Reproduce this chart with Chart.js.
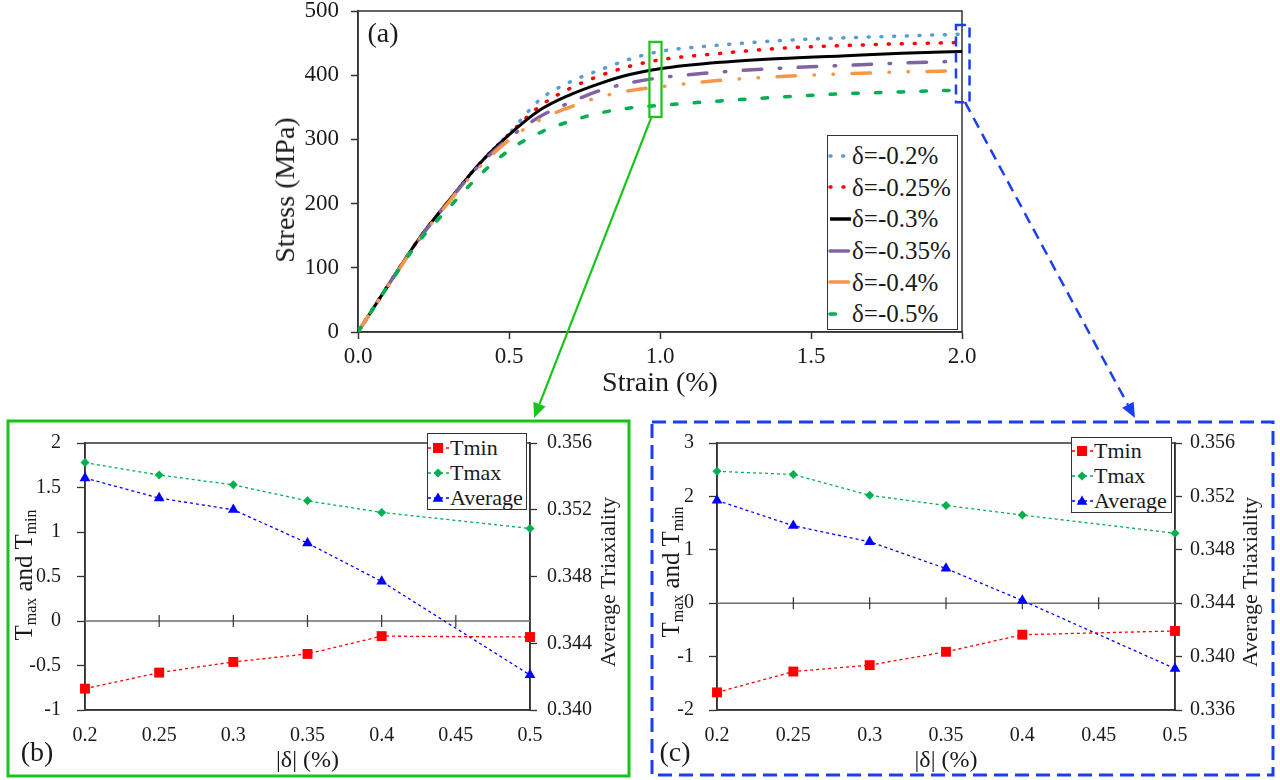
<!DOCTYPE html>
<html>
<head>
<meta charset="utf-8">
<script src="https://cdn.jsdelivr.net/npm/chart.js@4.4.0/dist/chart.umd.min.js"></script>
<style>
  body { margin: 0; width: 1280px; height: 780px; position: relative; overflow: hidden; background: #fff;
         font-family: 'Liberation Serif', 'Times New Roman', serif; color: #1a1a1a; }
  .abs { position: absolute; }
  .rot { position: absolute; white-space: nowrap; transform: translate(-50%, -50%) rotate(-90deg); }
  .tag { position: absolute; transform: translate(-50%, -50%); font-size: 28px; }
  .legend { background: #fff; border: 1px solid #333; box-sizing: border-box; }
  .row { display: flex; align-items: center; }
  sub { font-size: 16px; vertical-align: -4px; }
</style>
</head>
<body>
<canvas id="chartA" class="abs" width="720" height="400" style="left:260px;top:0px;"></canvas>
<canvas id="chartB" class="abs" width="616" height="351" style="left:10px;top:424px;"></canvas>
<canvas id="chartC" class="abs" width="614" height="350" style="left:655px;top:425px;"></canvas>
<canvas id="overlay" class="abs" width="1280" height="780" style="left:0;top:0;pointer-events:none;"></canvas>

<div class="rot" style="left:285px;top:190px;font-size:28px;">Stress (MPa)</div>
<div class="rot" style="left:25px;top:575px;font-size:25px;">T<sub>max</sub> and T<sub>min</sub></div>
<div class="rot" style="left:608px;top:582px;font-size:22px;">Average Triaxiality</div>
<div class="rot" style="left:672px;top:572px;font-size:25px;">T<sub>max</sub> and T<sub>min</sub></div>
<div class="rot" style="left:1250px;top:582px;font-size:22px;">Average Triaxiality</div>
<div class="tag" style="left:383px;top:33px;">(a)</div>
<div class="tag" style="left:37px;top:752px;">(b)</div>
<div class="tag" style="left:675px;top:752px;">(c)</div>

<div id="legA" class="abs legend" style="left:827px;top:135px;width:131px;height:195px;padding-top:4px;"></div>
<div id="legB" class="abs legend" style="left:427px;top:433px;width:100px;height:77px;padding-top:1px;"></div>
<div id="legC" class="abs legend" style="left:1071px;top:437px;width:101px;height:76px;padding-top:0px;"></div>

<script>
// (a) stress-strain curves for each offset delta
const strain = [0, 0.1, 0.2, 0.3, 0.4, 0.5, 0.6, 0.7, 0.8, 0.9, 1.0, 1.2, 1.4, 1.6, 1.8, 2.0];
const stressD020 = [0, 73, 144, 204, 261, 309, 361, 389, 408, 425, 437, 447, 454, 458, 461, 464];
const stressD025 = [0, 73, 144, 204, 261, 308, 351, 379, 399, 414, 424, 434, 442, 446, 449, 451];
const stressD030 = [0, 73, 144, 204, 261, 307, 345, 369, 387, 401, 410, 420, 426, 430, 434, 437];
const stressD035 = [0, 73, 143, 203, 259, 302, 335, 357, 376, 388, 396, 405, 411, 415, 419, 422];
const stressD040 = [0, 72, 142, 202, 256, 299, 330, 350, 366, 376, 382, 392, 398, 402, 405, 407];
const stressD050 = [0, 72, 140, 193, 243, 283, 310, 328, 341, 349, 353, 360, 366, 371, 374, 377];
const curveLabels = ['δ=-0.2%', 'δ=-0.25%', 'δ=-0.3%', 'δ=-0.35%', 'δ=-0.4%', 'δ=-0.5%'];
const strainTicks = [0, 0.5, 1.0, 1.5, 2.0];
const stressTicks = [0, 100, 200, 300, 400, 500];

// (b), (c) triaxiality vs |delta|
const deltaAbs = [0.2, 0.25, 0.3, 0.35, 0.4, 0.5];
const deltaTicks = [0.2, 0.25, 0.3, 0.35, 0.4, 0.45, 0.5];
const tminB = [-0.76, -0.58, -0.46, -0.37, -0.17, -0.18];
const tmaxB = [1.78, 1.64, 1.53, 1.35, 1.22, 1.04];
const avgB = [0.3539, 0.3527, 0.3520, 0.3500, 0.3477, 0.3421];
const tTicksB = [-1, -0.5, 0, 0.5, 1, 1.5, 2];
const avgTicksB = [0.340, 0.344, 0.348, 0.352, 0.356];
const tminC = [-1.67, -1.28, -1.16, -0.91, -0.59, -0.52];
const tmaxC = [2.47, 2.41, 2.02, 1.83, 1.65, 1.31];
const avgC = [0.3517, 0.3498, 0.3486, 0.3466, 0.3442, 0.3391];
const tTicksC = [-2, -1, 0, 1, 2, 3];
const avgTicksC = [0.336, 0.340, 0.344, 0.348, 0.352, 0.356];
const panelLabels = ['Tmin', 'Tmax', 'Average'];

const SERIF = "'Liberation Serif', 'Times New Roman', serif";
const AXIS = '#333333';
Chart.defaults.font.family = SERIF;
Chart.defaults.color = '#1a1a1a';

// line looks for the six curves
const curveColors = ['#5b9bd5', '#ff0000', '#000000', '#8064a2', '#f79646', '#00b050'];
const curveDash = [[1, 11.7], [1, 12], [], [18.5, 17.5, 1.5, 17.5], [18.5, 18.5, 0.5, 18.5, 0.5, 18.5], [5.5, 17.2]];

function xy(xs, ys) {
  return xs.map((x, i) => ({ x: x, y: ys[i] }));
}
function fixTicks(list) {
  return function (scale) { scale.ticks = list.map(v => ({ value: v })); };
}
// fixed axis thickness, no extra room for overhanging end labels
function sizeY(fit, key) {
  return function (s) { s.width = fit[key]; s.paddingTop = 0; s.paddingBottom = 0; };
}
function sizeX(fit) {
  return function (s) { s.height = fit.xh; s.paddingLeft = 0; s.paddingRight = 0; };
}

// box around the plot area
const frame = {
  id: 'frame',
  beforeDatasetsDraw(chart) {
    const a = chart.chartArea, ctx = chart.ctx;
    ctx.save();
    ctx.strokeStyle = AXIS;
    ctx.lineWidth = 1.5;
    ctx.strokeRect(a.left, a.top, a.right - a.left, a.bottom - a.top);
    ctx.restore();
  }
};

// zero line with crossing tick marks (panels b, c)
const zeroAxis = {
  id: 'zeroAxis',
  beforeDatasetsDraw(chart) {
    const a = chart.chartArea, ctx = chart.ctx;
    const y0 = chart.scales.y.getPixelForValue(0);
    ctx.save();
    ctx.strokeStyle = '#6e6e6e';
    ctx.lineWidth = 1.5;
    ctx.beginPath();
    ctx.moveTo(a.left, y0);
    ctx.lineTo(a.right, y0);
    ctx.stroke();
    ctx.strokeStyle = AXIS;
    ctx.lineWidth = 1.2;
    deltaTicks.slice(1, -1).forEach(v => {
      const x = chart.scales.x.getPixelForValue(v);
      ctx.beginPath();
      ctx.moveTo(x, y0 - 6);
      ctx.lineTo(x, y0 + 6);
      ctx.stroke();
    });
    ctx.restore();
  }
};

// ---------- (a) ----------
const stressSeries = [stressD020, stressD025, stressD030, stressD035, stressD040, stressD050];
const fitA = { xh: 68, yw: 98 };
const chartA = new Chart(document.getElementById('chartA'), {
  type: 'line',
  data: {
    datasets: stressSeries.map((s, i) => ({
      label: curveLabels[i],
      data: xy(strain, s),
      borderColor: curveColors[i],
      backgroundColor: curveColors[i],
      borderWidth: i === 2 ? 3 : 3.5,
      borderDash: curveDash[i],
      borderCapStyle: curveDash[i].length ? 'round' : 'butt',
      pointRadius: 0,
      cubicInterpolationMode: 'monotone',
      order: 6 - i
    }))
  },
  options: {
    responsive: false,
    animation: false,
    layout: { padding: { top: 11, left: 0, right: 18, bottom: 0 } },
    plugins: { legend: { display: false }, tooltip: { enabled: false } },
    scales: {
      x: {
        type: 'linear', min: 0, max: 2,
        afterBuildTicks: fixTicks(strainTicks),
        afterFit: sizeX(fitA),
        grid: { drawOnChartArea: false, tickLength: 7, tickColor: AXIS, tickWidth: 1.5 },
        border: { color: AXIS, width: 1.5 },
        ticks: { font: { size: 23 }, padding: 4, maxRotation: 0, callback: v => v.toFixed(1) },
        title: { display: true, text: 'Strain (%)', font: { size: 28 }, padding: 0 }
      },
      y: {
        min: 0, max: 500,
        afterBuildTicks: fixTicks(stressTicks),
        afterFit: sizeY(fitA, 'yw'),
        grid: { drawOnChartArea: false, tickLength: 7, tickColor: AXIS, tickWidth: 1.5 },
        border: { color: AXIS, width: 1.5 },
        ticks: { font: { size: 23 }, padding: 12 }
      }
    }
  },
  plugins: [frame]
});

// ---------- (b), (c) ----------
const panelColors = ['#ff0000', '#00b050', '#0000ff'];
const panelStyles = ['rect', 'rectRot', 'triangle'];
const panelRadius = [7, 4.5, 6.2];

function makePanel(id, tmin, tmax, avg, tTicks, avgTicks, fit) {
  const series = [tmin, tmax, avg];
  return new Chart(document.getElementById(id), {
    type: 'line',
    data: {
      datasets: series.map((s, i) => ({
        label: panelLabels[i],
        data: xy(deltaAbs, s),
        yAxisID: i === 2 ? 'y1' : 'y',
        borderColor: panelColors[i],
        backgroundColor: panelColors[i],
        borderWidth: 1.3,
        borderDash: [3, 3],
        pointStyle: panelStyles[i],
        pointRadius: panelRadius[i],
        pointBorderWidth: 0,
        tension: 0,
        clip: false
      }))
    },
    options: {
      responsive: false,
      animation: false,
      layout: { padding: { top: fit.top, left: 0, right: 0, bottom: 0 } },
      plugins: { legend: { display: false }, tooltip: { enabled: false } },
      scales: {
        x: {
          type: 'linear', min: deltaTicks[0], max: deltaTicks[deltaTicks.length - 1],
          afterBuildTicks: fixTicks(deltaTicks),
          afterFit: sizeX(fit),
          grid: { display: false, drawTicks: false },
          border: { color: AXIS, width: 1.5 },
          ticks: { font: { size: 20 }, padding: 14, maxRotation: 0, autoSkip: false, callback: v => String(v) },
          title: { display: true, text: '|δ| (%)', font: { size: 24 }, padding: 0 }
        },
        y: {
          position: 'left', min: tTicks[0], max: tTicks[tTicks.length - 1],
          afterBuildTicks: fixTicks(tTicks),
          afterFit: sizeY(fit, 'yw'),
          grid: { drawOnChartArea: false, tickLength: 8, tickColor: AXIS, tickWidth: 1.3 },
          border: { color: AXIS, width: 1.5 },
          ticks: { font: { size: 20 }, padding: fit.yp, callback: v => String(v) }
        },
        y1: {
          position: 'right', min: avgTicks[0], max: avgTicks[avgTicks.length - 1],
          afterBuildTicks: fixTicks(avgTicks),
          afterFit: sizeY(fit, 'y1w'),
          grid: { drawOnChartArea: false, tickLength: 7, tickColor: AXIS, tickWidth: 1.3 },
          border: { color: AXIS, width: 1.5 },
          ticks: { font: { size: 20 }, padding: fit.y1p, callback: v => v.toFixed(3) }
        }
      }
    },
    plugins: [frame, zeroAxis]
  });
}

const chartB = makePanel('chartB', tminB, tmaxB, avgB, tTicksB, avgTicksB,
  { top: 19, xh: 65, yw: 75, yp: 16, y1w: 96, y1p: 10 });
const chartC = makePanel('chartC', tminC, tmaxC, avgC, tTicksC, avgTicksC,
  { top: 18, xh: 65, yw: 62, yp: 15, y1w: 94, y1p: 8 });

// ---------- legends ----------
function curveLegend() {
  const box = document.getElementById('legA');
  curveLabels.forEach((lab, i) => {
    const dash = curveDash[i].join(' ');
    const cap = curveDash[i].length ? 'round' : 'butt';
    box.insertAdjacentHTML('beforeend',
      '<div class="row" style="height:31.6px;">' +
      '<svg width="24" height="10"><line x1="2" y1="5" x2="23" y2="5" stroke="' + curveColors[i] +
      '" stroke-width="3.5" stroke-linecap="' + cap + '" stroke-dasharray="' + dash + '"/></svg>' +
      '<span style="font-size:25px;line-height:1">' + lab + '</span></div>');
  });
}
function markerSvg(i) {
  const c = panelColors[i];
  let m = '';
  if (i === 0) m = '<rect x="5" y="2" width="10" height="10" fill="' + c + '"/>';
  if (i === 1) m = '<polygon points="10,2.5 14.5,7 10,11.5 5.5,7" fill="' + c + '"/>';
  if (i === 2) m = '<polygon points="10,1.5 15.4,10.8 4.6,10.8" fill="' + c + '"/>';
  return '<svg width="21" height="14"><line x1="0" y1="7" x2="21" y2="7" stroke="' + c +
    '" stroke-width="1.3" stroke-dasharray="3 3"/>' + m + '</svg>';
}
function panelLegend(id) {
  const box = document.getElementById(id);
  panelLabels.forEach((lab, i) => {
    box.insertAdjacentHTML('beforeend',
      '<div class="row" style="height:25px;">' + markerSvg(i) +
      '<span style="font-size:22px;margin-left:1px;line-height:1">' + lab + '</span></div>');
  });
}
curveLegend();
panelLegend('legB');
panelLegend('legC');

// ---------- callout boxes and arrows ----------
function arrow(ctx, x0, y0, x1, y1, color, dash, lw) {
  const ang = Math.atan2(y1 - y0, x1 - x0);
  const hl = 15, hw = 6.5;
  const bx = x1 - hl * Math.cos(ang), by = y1 - hl * Math.sin(ang);
  ctx.save();
  ctx.strokeStyle = color;
  ctx.fillStyle = color;
  ctx.lineWidth = lw;
  ctx.setLineDash(dash);
  ctx.beginPath();
  ctx.moveTo(x0, y0);
  ctx.lineTo(bx, by);
  ctx.stroke();
  ctx.setLineDash([]);
  ctx.beginPath();
  ctx.moveTo(x1, y1);
  ctx.lineTo(bx - hw * Math.sin(ang), by + hw * Math.cos(ang));
  ctx.lineTo(bx + hw * Math.sin(ang), by - hw * Math.cos(ang));
  ctx.closePath();
  ctx.fill();
  ctx.restore();
}

function drawCallouts() {
  const ctx = document.getElementById('overlay').getContext('2d');
  const sx = chartA.scales.x, sy = chartA.scales.y;
  const px = v => sx.getPixelForValue(v) + 260;
  const py = v => sy.getPixelForValue(v);
  const GREEN = '#19c419', BLUE = '#1a3ff0';

  // window at strain 1.0 -> panel (b)
  ctx.strokeStyle = GREEN;
  ctx.lineWidth = 2.2;
  ctx.strokeRect(px(0.965), py(452), px(1.005) - px(0.965), py(335) - py(452));
  arrow(ctx, px(0.972), py(335), 534, 418, GREEN, [], 2.2);

  // window at strain 2.0 -> panel (c)
  ctx.save();
  ctx.strokeStyle = BLUE;
  ctx.lineWidth = 2.5;
  ctx.setLineDash([10, 6]);
  ctx.strokeRect(px(1.98), py(478), px(2.025) - px(1.98), py(358) - py(478));
  ctx.restore();
  arrow(ctx, px(2.01), py(358), 1135, 418, BLUE, [11, 7], 2.5);

  // panel borders
  ctx.save();
  ctx.strokeStyle = GREEN;
  ctx.lineWidth = 3;
  ctx.strokeRect(8, 421, 621, 355);
  ctx.strokeStyle = BLUE;
  ctx.setLineDash([14, 7]);
  ctx.strokeRect(652, 422, 621, 353);
  ctx.restore();
}
drawCallouts();
</script>
</body>
</html>
